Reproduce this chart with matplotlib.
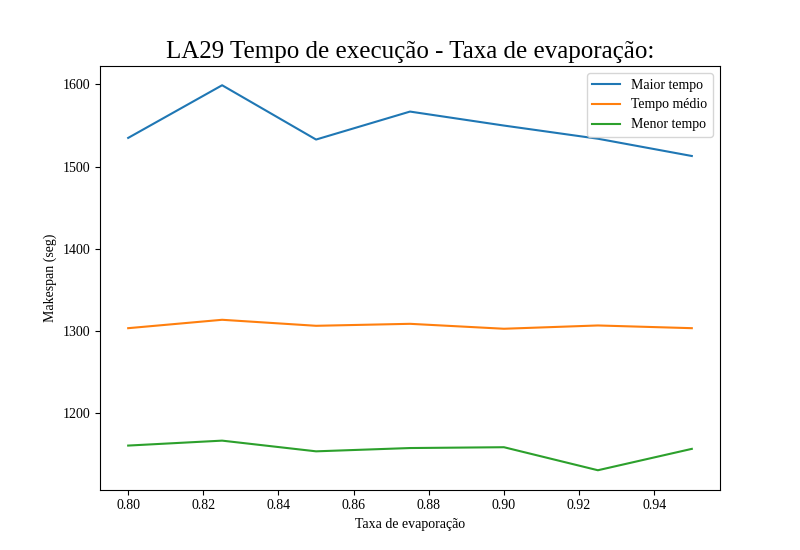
import matplotlib
matplotlib.use('Agg')
from matplotlib import pyplot as plt

plt.rcParams['font.family'] = ['Liberation Serif', 'DejaVu Serif']

taxa = [0.80, 0.825, 0.85, 0.875, 0.90, 0.925, 0.95]
maior_tempo = [1535, 1599, 1533, 1567, 1550, 1534, 1513]
tempo_medio = [1303.7, 1313.9, 1306.6, 1309.0, 1303.0, 1307.0, 1303.7]
menor_tempo = [1161, 1167, 1154, 1158, 1159, 1131, 1157]


def main():
    fig, ax = plt.subplots(figsize=(8, 5.5), dpi=100)
    ax.plot(taxa, maior_tempo, label='Maior tempo')
    ax.plot(taxa, tempo_medio, label='Tempo médio')
    ax.plot(taxa, menor_tempo, label='Menor tempo')
    ax.set_title('LA29 Tempo de execução - Taxa de evaporação:', fontsize=18)
    ax.set_xlabel('Taxa de evaporação')
    ax.set_ylabel('Makespan (seg)')
    ax.legend(loc='upper right')
    plt.savefig('out.png')
    plt.close()


if __name__ == '__main__':
    main()
